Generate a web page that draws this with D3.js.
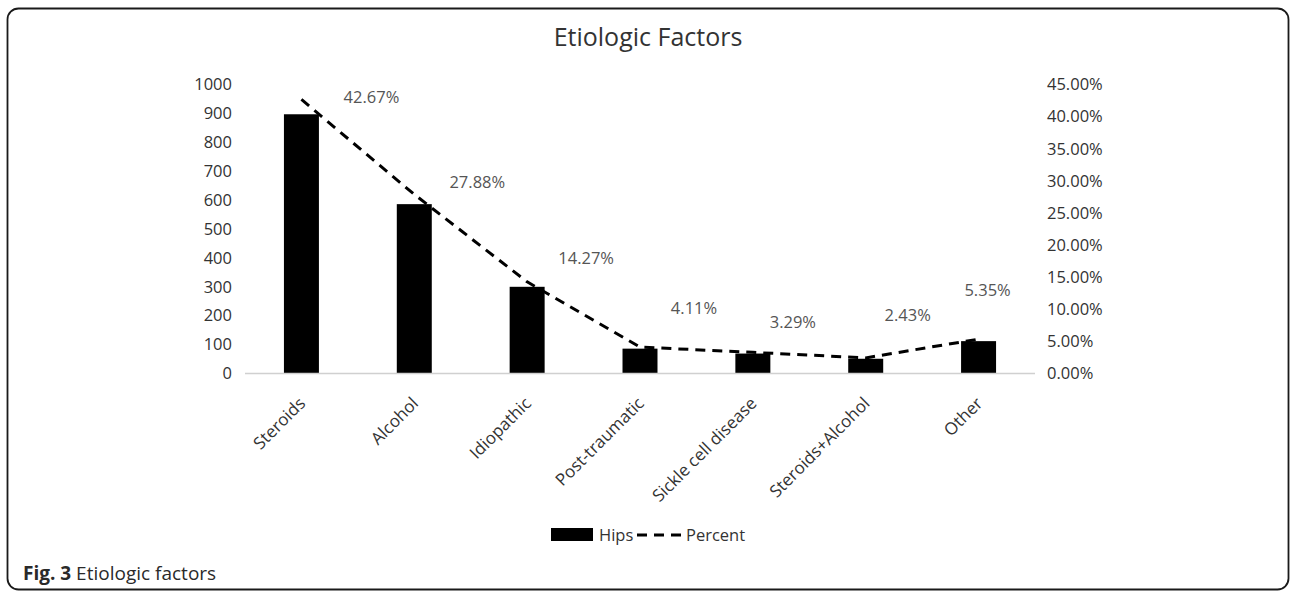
<!DOCTYPE html>
<html>
<head>
<meta charset="utf-8">
<script src="https://cdn.jsdelivr.net/npm/d3@7"></script>
<style>
  html, body { margin: 0; padding: 0; background: #fff; }
  svg { display: block; font-family: "Open Sans", "Noto Sans", sans-serif; }
</style>
</head>
<body>
<svg id="chart" width="1290" height="592"></svg>
<script>
// Etiologic factors: number of hips (bars) and share of total (dashed line)
const categories = ["Steroids", "Alcohol", "Idiopathic", "Post-traumatic", "Sickle cell disease", "Steroids+Alcohol", "Other"];
const hips = [897, 586, 300, 86, 69, 51, 112];
const percent = [42.67, 27.88, 14.27, 4.11, 3.29, 2.43, 5.35];
const leftTicks = [0, 100, 200, 300, 400, 500, 600, 700, 800, 900, 1000];
const rightTicks = [0, 5, 10, 15, 20, 25, 30, 35, 40, 45];

// label nudges (dx, dy) from each line point
const labelNudge = [[70, -2], [63, -12], [59, -24], [54, -39], [40, -30], [42, -43], [9, -49]];

const svg = d3.select("#chart");
const plot = { left: 245, right: 1035, top: 84.5, bottom: 373.5 };

// outer frame
svg.append("rect")
  .attr("x", 7.5).attr("y", 8.5)
  .attr("width", 1281).attr("height", 581)
  .attr("rx", 11).attr("ry", 11)
  .attr("fill", "none").attr("stroke", "#1a1a1a").attr("stroke-width", 1.8);

const x = d3.scaleBand()
  .domain(categories)
  .range([plot.left, plot.right])
  .paddingInner(0.69)
  .paddingOuter(0.345);

const yL = d3.scaleLinear().domain([0, 1000]).range([plot.bottom, plot.top]);
const yR = d3.scaleLinear().domain([0, 45]).range([plot.bottom, plot.top]);

const cx = c => x(c) + x.bandwidth() / 2;

// title
svg.append("text")
  .attr("x", 648).attr("y", 46)
  .attr("text-anchor", "middle")
  .attr("font-size", 25)
  .attr("fill", "#333")
  .text("Etiologic Factors");

// left axis
const axL = svg.append("g")
  .attr("transform", `translate(${plot.left - 13},0)`)
  .call(d3.axisLeft(yL).tickValues(leftTicks).tickSize(0).tickPadding(0).tickFormat(d3.format("d")));
axL.select(".domain").remove();
axL.selectAll("text")
  .attr("font-family", "Open Sans")
  .attr("font-size", 16.5)
  .attr("fill", "#333");

// right axis
const axR = svg.append("g")
  .attr("transform", `translate(${plot.right + 12},0)`)
  .call(d3.axisRight(yR).tickValues(rightTicks).tickSize(0).tickPadding(0).tickFormat(d => d3.format(".2f")(d) + "%"));
axR.select(".domain").remove();
axR.selectAll("text")
  .attr("font-family", "Open Sans")
  .attr("font-size", 16.5)
  .attr("fill", "#333");

// bars
svg.append("g").selectAll("rect")
  .data(categories)
  .join("rect")
  .attr("x", d => x(d))
  .attr("y", (d, i) => yL(hips[i]))
  .attr("width", x.bandwidth())
  .attr("height", (d, i) => yL(0) - yL(hips[i]))
  .attr("fill", "#000");

// category baseline
svg.append("line")
  .attr("x1", plot.left).attr("x2", plot.right)
  .attr("y1", yL(0)).attr("y2", yL(0))
  .attr("stroke", "#d0d0d0").attr("stroke-width", 1.5);

// percent line
const line = d3.line()
  .x((d, i) => cx(categories[i]))
  .y(d => yR(d));
svg.append("path")
  .datum(percent)
  .attr("d", line)
  .attr("fill", "none")
  .attr("stroke", "#000")
  .attr("stroke-width", 3)
  .attr("stroke-dasharray", "10,7");

// percent labels
svg.append("g").selectAll("text")
  .data(percent)
  .join("text")
  .attr("x", (d, i) => cx(categories[i]) + labelNudge[i][0])
  .attr("y", (d, i) => yR(d) + labelNudge[i][1])
  .attr("dy", "0.35em")
  .attr("text-anchor", "middle")
  .attr("font-size", 16.5)
  .attr("fill", "#555")
  .text(d => d3.format(".2f")(d) + "%");

// category labels, rotated
svg.append("g").selectAll("text")
  .data(categories)
  .join("text")
  .attr("transform", d => `translate(${cx(d) + 5},${plot.bottom + 31}) rotate(-45)`)
  .attr("text-anchor", "end")
  .attr("font-size", 17)
  .attr("fill", "#333")
  .text(d => d);

// legend
const lg = svg.append("g");
lg.append("rect")
  .attr("x", 551).attr("y", 528).attr("width", 42).attr("height", 13)
  .attr("fill", "#000");
lg.append("text")
  .attr("x", 599).attr("y", 541)
  .attr("font-size", 16.5).attr("fill", "#333")
  .text("Hips");
lg.append("line")
  .attr("x1", 637).attr("x2", 682).attr("y1", 535).attr("y2", 535)
  .attr("stroke", "#000").attr("stroke-width", 3).attr("stroke-dasharray", "10,7");
lg.append("text")
  .attr("x", 686).attr("y", 541)
  .attr("font-size", 16.5).attr("fill", "#333")
  .text("Percent");

// figure caption
const cap = svg.append("text")
  .attr("x", 23).attr("y", 580)
  .attr("font-size", 19).attr("fill", "#2a2a2a");
cap.append("tspan").attr("font-weight", "bold").text("Fig. 3");
cap.append("tspan").text(" Etiologic factors");
</script>
</body>
</html>
